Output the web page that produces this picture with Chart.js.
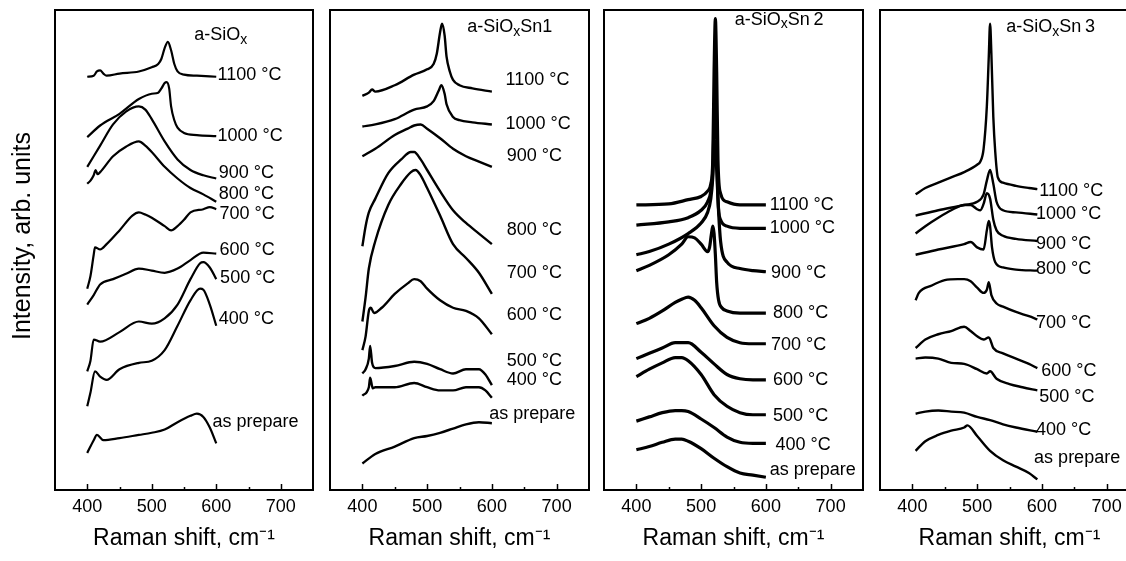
<!DOCTYPE html>
<html>
<head>
<meta charset="utf-8">
<script src="https://cdn.jsdelivr.net/npm/chart.js@4.4.1/dist/chart.umd.min.js"></script>
<style>
  html, body { margin: 0; padding: 0; background: #fff; overflow: hidden; width: 1126px; height: 561px; }
  canvas { position: absolute; top: 0; }
</style>
</head>
<body>
<canvas id="c1" width="320" height="561" style="left:0px"></canvas>
<canvas id="c2" width="275" height="561" style="left:322px"></canvas>
<canvas id="c3" width="274" height="561" style="left:597px"></canvas>
<canvas id="c4" width="275" height="561" style="left:872px"></canvas>
<script>
const temps = ['1100 °C', '1000 °C', '900 °C', '800 °C', '700 °C', '600 °C', '500 °C', '400 °C', 'as prepare'];
const tickLabels = [400, 500, 600, 700];
const minorTicks = [450, 550, 650];

// a-SiOx  [shift cm-1, intensity arb.]
const siox1100 = [[400,390],[410,391],[415,395],[420,396],[425,393],[430,391],[450,393],[480,395],[500,399],[510,402],[515,407],[520,417],[525,423],[530,415],[535,402],[540,395],[550,392],[570,391],[600,390]];
const siox1000 = [[400,333],[420,344],[450,355],[480,369],[500,374],[510,375],[515,379],[520,384],[523,385],[527,379],[530,362],[535,349],[540,342],[550,337],[570,335],[600,334]];
const siox900 = [[400,305],[410,315],[420,325],[440,345],[460,357],[480,362],[490,359],[500,350],[520,329],[540,312],[560,302],[580,297],[600,294]];
const siox800 = [[400,289],[405,292],[410,297],[413,302],[416,298],[420,300],[440,315],[460,324],[480,329],[490,325],[500,319],[520,305],[540,294],[560,285],[580,279],[600,272]];
const siox700 = [[400,190],[405,202],[410,222],[412,229],[420,227],[430,232],[450,245],[470,259],[480,262],[490,260],[500,257],[520,249],[530,245],[540,249],[550,255],[560,262],[580,265],[590,267],[600,265]];
const siox600 = [[400,175],[410,184],[420,194],[440,199],[460,204],[480,209],[500,207],[520,205],[540,209],[560,217],[580,224],[600,223]];
const siox500 = [[400,112],[405,122],[410,142],[420,140],[450,149],[480,159],[500,157],[520,162],[540,175],[560,199],[575,214],[580,215],[590,210],[600,199]];
const siox400 = [[400,79],[405,92],[412,112],[420,107],[430,104],[450,114],[480,120],[500,122],[520,132],[540,155],[560,179],[575,190],[580,189],[590,175],[600,155]];
const sioxAsPrep = [[400,35],[410,47],[415,52],[425,47],[450,49],[480,52],[500,54],[520,57],[540,64],[560,70],[570,72],[580,69],[590,59],[600,44]];

// a-SiOxSn1
const sn1_1100 = [[400,372],[410,375],[415,378],[420,376],[450,382],[480,392],[500,397],[510,402],[515,412],[520,432],[523,440],[527,429],[530,409],[535,395],[540,387],[550,382],[570,379],[600,376]];
const sn1_1000 = [[400,343],[420,345],[450,350],[480,359],[500,362],[510,367],[518,377],[522,382],[527,374],[530,364],[540,352],[550,349],[570,347],[600,345]];
const sn1_900 = [[400,315],[420,322],[450,335],[470,341],[480,344],[490,345],[500,341],[520,332],[540,322],[560,315],[580,310],[600,305]];
const sn1_800 = [[400,230],[405,249],[410,262],[420,275],[440,299],[460,312],[475,319],[480,319],[490,312],[500,302],[520,282],[540,264],[560,252],[580,242],[600,232]];
const sn1_700 = [[400,159],[405,182],[410,209],[420,235],[440,269],[460,289],[475,300],[482,302],[490,297],[500,285],[520,259],[540,232],[560,219],[580,205],[600,185]];
const sn1_600 = [[400,132],[405,145],[410,169],[413,172],[418,167],[430,172],[450,185],[470,195],[480,199],[490,197],[500,190],[520,179],[540,172],[560,169],[580,162],[600,147]];
const sn1_500 = [[400,110],[405,114],[410,124],[412,136],[415,120],[420,115],[450,117],[480,121],[500,119],[520,114],[540,110],[560,114],[580,114],[590,109],[600,99]];
const sn1_400 = [[400,89],[410,97],[412,106],[416,96],[420,97],[450,97],[480,101],[500,97],[520,94],[540,94],[560,97],[580,97],[590,94],[600,87]];
const sn1AsPrep = [[400,25],[420,34],[450,41],[480,49],[500,51],[520,54],[540,58],[560,62],[580,64],[600,63]];

// a-SiOxSn2
const sn2_1100 = [[400,269],[450,270],[480,274],[500,277],[510,282],[515,289],[518,312],[520,395],[522,445],[524,395],[526,312],[530,280],[540,272],[560,269],[600,269]];
const sn2_1000 = [[400,250],[450,253],[480,257],[500,264],[510,272],[515,282],[518,302],[520,350],[522,400],[524,340],[526,275],[530,255],[540,249],[560,247],[600,247]];
const sn2_900 = [[400,222],[420,225],[450,232],[480,242],[500,252],[510,262],[515,275],[518,295],[520,322],[522,329],[524,302],[527,262],[530,235],[540,215],[560,209],[580,207],[600,206]];
const sn2_800 = [[400,207],[420,212],[450,222],[470,232],[480,239],[490,238],[500,232],[510,225],[513,229],[516,242],[518,249],[520,242],[522,222],[524,196],[527,179],[532,172],[540,169],[560,167],[600,167]];
const sn2_700 = [[400,157],[420,162],[440,169],[460,177],[470,180],[480,182],[490,179],[500,172],[520,155],[540,144],[560,139],[580,138],[600,138]];
const sn2_600 = [[400,124],[420,129],[440,134],[460,139],[470,139],[480,139],[500,130],[520,119],[540,109],[560,105],[580,104],[600,104]];
const sn2_500 = [[400,107],[420,114],[440,120],[460,125],[470,125],[480,122],[500,109],[520,90],[540,79],[560,73],[580,71],[600,71]];
const sn2_400 = [[400,65],[420,69],[440,73],[460,75],[470,75],[480,74],[500,67],[520,59],[540,50],[560,45],[580,44],[600,44]];
const sn2AsPrep = [[400,38],[420,41],[440,45],[460,48],[470,48],[480,46],[500,39],[520,30],[540,22],[560,16],[580,14],[600,12]];

// a-SiOxSn3
const sn3_1100 = [[405,279],[420,285],[440,290],[460,295],[480,300],[500,307],[505,310],[510,322],[515,362],[518,409],[520,440],[522,412],[525,352],[528,319],[532,295],[540,290],[560,287],[580,285],[593,284]];
const sn3_1000 = [[405,259],[440,264],[480,269],[500,272],[510,279],[515,292],[520,302],[525,289],[530,272],[540,264],[560,262],[593,260]];
const sn3_900 = [[405,242],[420,249],[440,257],[460,264],[480,269],[490,269],[500,265],[505,264],[510,270],[515,280],[520,275],[525,255],[530,245],[540,240],[560,237],[593,235]];
const sn3_800 = [[405,222],[440,227],[480,232],[490,234],[500,229],[510,227],[515,245],[518,254],[520,249],[523,229],[528,215],[540,210],[560,208],[593,207]];
const sn3_700 = [[405,179],[410,186],[430,193],[450,198],[470,199],[480,199],[490,197],[500,191],[510,186],[515,189],[518,196],[522,184],[530,176],[540,173],[560,168],[580,164],[593,161]];
const sn3_600 = [[405,134],[420,142],[440,147],[460,150],[480,154],[490,150],[500,145],[510,142],[518,144],[525,134],[540,129],[560,124],[580,119],[593,115]];
const sn3_500 = [[405,124],[420,125],[440,124],[460,120],[480,119],[500,114],[515,110],[520,112],[530,105],[550,100],[570,97],[593,94]];
const sn3_400 = [[405,72],[420,74],[440,75],[460,74],[480,73],[500,69],[520,66],[540,62],[560,59],[593,55]];
const sn3AsPrep = [[405,37],[420,46],[440,52],[460,56],[480,59],[485,61],[500,51],[520,37],[540,28],[560,22],[580,16],[593,10]];

// where the temperature labels sit, in data units
const sioxLabelX = [602, 602, 604, 604, 605, 605, 606, 604, 594];
const sioxLabelY = [392, 334, 299, 279, 260, 226, 200, 161, 64];
const sn1LabelX = [621, 621, 623, 623, 623, 623, 623, 623, 596];
const sn1LabelY = [387, 345, 315, 245, 205, 165, 122, 104, 72];
const sn2LabelX = [606, 606, 608, 611, 608, 611, 611, 615, 606];
const sn2LabelY = [269, 247, 205, 167, 137, 104, 70, 42, 19];
const sn3LabelX = [596, 591, 591, 591, 591, 599, 596, 591, 588];
const sn3LabelY = [282, 260, 232, 209, 158, 112, 88, 57, 30];

const FONT = '"Liberation Sans", Arial, sans-serif';

function decor(cfg) {
  return {
    id: 'decor',
    afterDraw(chart) {
      const { ctx, chartArea: a, scales: { x, y } } = chart;
      ctx.save();
      ctx.strokeStyle = '#000';
      ctx.lineWidth = 2;
      ctx.strokeRect(a.left, a.top, a.right - a.left, a.bottom - a.top);
      ctx.lineWidth = 1.5;
      tickLabels.forEach(v => {
        const px = Math.round(x.getPixelForValue(v)) + 0.5;
        ctx.beginPath(); ctx.moveTo(px, a.bottom); ctx.lineTo(px, a.bottom - 6); ctx.stroke();
      });
      minorTicks.forEach(v => {
        const px = Math.round(x.getPixelForValue(v)) + 0.5;
        ctx.beginPath(); ctx.moveTo(px, a.bottom); ctx.lineTo(px, a.bottom - 3); ctx.stroke();
      });

      ctx.fillStyle = '#000';
      ctx.textBaseline = 'middle';
      ctx.textAlign = 'left';
      ctx.font = '18px ' + FONT;
      temps.forEach((t, i) => {
        ctx.fillText(t, x.getPixelForValue(cfg.lx[i]), y.getPixelForValue(cfg.ly[i]));
      });

      // panel name with subscript x
      let tx = x.getPixelForValue(cfg.title[0]);
      const ty = y.getPixelForValue(cfg.title[1]);
      ctx.font = '18px ' + FONT;
      ctx.fillText('a-SiO', tx, ty);
      tx += ctx.measureText('a-SiO').width;
      ctx.font = '14px ' + FONT;
      ctx.fillText('x', tx, ty + 5);
      tx += ctx.measureText('x').width;
      if (cfg.sn) {
        ctx.font = '18px ' + FONT;
        ctx.fillText(cfg.sn, tx, ty);
      }

      if (cfg.yTitle) {
        ctx.translate(23, 236);
        ctx.rotate(-Math.PI / 2);
        ctx.textAlign = 'center';
        ctx.font = '25px ' + FONT;
        ctx.fillText('Intensity, arb. units', 0, 0);
      }
      ctx.restore();
    }
  };
}

function makePanel(id, curves, cfg) {
  new Chart(document.getElementById(id), {
    type: 'line',
    data: {
      datasets: curves.map(c => ({
        data: c.map(p => ({ x: p[0], y: p[1] })),
        borderColor: '#000',
        borderWidth: cfg.lw,
        pointRadius: 0,
        cubicInterpolationMode: 'monotone',
        fill: false
      }))
    },
    options: {
      responsive: false,
      animation: false,
      devicePixelRatio: 1,
      layout: { padding: { left: cfg.padL, right: cfg.padR, top: 10, bottom: 0 } },
      plugins: { legend: { display: false }, tooltip: { enabled: false } },
      scales: {
        x: {
          type: 'linear',
          min: 350,
          max: 750,
          afterBuildTicks: s => { s.ticks = tickLabels.map(v => ({ value: v })); },
          afterFit: s => { s.height = 71; },
          grid: { display: false, drawTicks: false },
          border: { display: false },
          ticks: { color: '#000', font: { family: FONT, size: 18 }, padding: 6, maxRotation: 0, autoSkip: false },
          title: {
            display: true,
            text: 'Raman shift, cm⁻¹',
            color: '#000',
            font: { family: FONT, size: 23 },
            padding: { top: 0, bottom: 9 }
          }
        },
        y: {
          type: 'linear',
          min: 0,
          max: 453,
          display: false
        }
      }
    },
    plugins: [decor(cfg)]
  });
}

makePanel('c1',
  [siox1100, siox1000, siox900, siox800, siox700, siox600, siox500, siox400, sioxAsPrep],
  { lw: 2.2, padL: 55, padR: 7, yTitle: true, lx: sioxLabelX, ly: sioxLabelY, title: [566, 429], sn: '' });
makePanel('c2',
  [sn1_1100, sn1_1000, sn1_900, sn1_800, sn1_700, sn1_600, sn1_500, sn1_400, sn1AsPrep],
  { lw: 2.4, padL: 8, padR: 8, yTitle: false, lx: sn1LabelX, ly: sn1LabelY, title: [562, 437], sn: 'Sn1' });
makePanel('c3',
  [sn2_1100, sn2_1000, sn2_900, sn2_800, sn2_700, sn2_600, sn2_500, sn2_400, sn2AsPrep],
  { lw: 3.2, padL: 7, padR: 8, yTitle: false, lx: sn2LabelX, ly: sn2LabelY, title: [552, 444], sn: 'Sn\u20092' });
makePanel('c4',
  [sn3_1100, sn3_1000, sn3_900, sn3_800, sn3_700, sn3_600, sn3_500, sn3_400, sn3AsPrep],
  { lw: 2.4, padL: 8, padR: 8, yTitle: false, lx: sn3LabelX, ly: sn3LabelY, title: [545, 437], sn: 'Sn\u20093' });
</script>
</body>
</html>
